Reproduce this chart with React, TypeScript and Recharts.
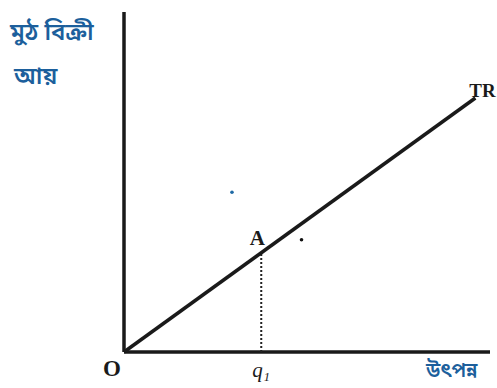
import React from "react";
import { LineChart, Line, XAxis, YAxis, ReferenceLine, ReferenceDot, Customized } from "recharts";

const trX = [0, 9.6];
const trY = [0, 7.47];
const qX = 3.75;
const aY = 2.92;
const specks = [
  { x: 2.95, y: 4.7, color: "#1f6aa5" },
  { x: 4.85, y: 3.3, color: "#111" },
];
const yTitle = ["মুঠ বিক্রী", "আয়"];
const xTitle = "উৎপন্ন";

const data = trX.map((x, i) => ({ x, tr: trY[i] }));

const BN = "'Noto Sans Bengali', 'Noto Sans', 'DejaVu Sans', sans-serif";
const SERIF = "'Liberation Serif', 'DejaVu Serif', serif";

const Titles = () => (
  <g>
    <text x={10} y={40} fontFamily={BN} fontSize={24} fontWeight={600} fill="#1c5f9c">{yTitle[0]}</text>
    <text x={14} y={84} fontFamily={BN} fontSize={24} fontWeight={600} fill="#1c5f9c">{yTitle[1]}</text>
    <text x={426} y={377} fontFamily={BN} fontSize={20} fontWeight={600} fill="#1c5f9c">{xTitle}</text>
  </g>
);

export default function App() {
  return (
    <div style={{ position: "absolute", left: 0, top: 0, width: 497, height: 388, background: "#fff" }}>
      <LineChart width={497} height={388} data={data} margin={{ top: 12, right: 7, bottom: 36, left: 124 }}>
        <XAxis type="number" dataKey="x" domain={[0, 10]} hide />
        <YAxis type="number" domain={[0, 10]} hide />
        <ReferenceLine segment={[{ x: 0, y: 0 }, { x: 10, y: 0 }]} stroke="#1a1a1a" strokeWidth={3.5} ifOverflow="visible" />
        <ReferenceLine segment={[{ x: 0, y: 0 }, { x: 0, y: 10 }]} stroke="#1a1a1a" strokeWidth={3.5} ifOverflow="visible" />
        <ReferenceLine segment={[{ x: qX, y: 0 }, { x: qX, y: aY }]} stroke="#222" strokeWidth={2} strokeDasharray="2 2" />
        <Line type="linear" dataKey="tr" stroke="#1a1a1a" strokeWidth={3.5} dot={false} isAnimationActive={false} />
        {specks.map((s, i) => (
          <ReferenceDot key={i} x={s.x} y={s.y} r={1.8} fill={s.color} stroke="none" />
        ))}
        <ReferenceDot x={qX} y={aY} r={0} stroke="none"
          label={{ value: "A", position: "top", offset: 8, dx: -4, fontFamily: SERIF, fontSize: 21, fontWeight: "bold", fill: "#1a1a1a" }} />
        <ReferenceDot x={qX} y={0} r={0} stroke="none"
          label={{ value: "q₁", position: "bottom", offset: 10, fontFamily: SERIF, fontStyle: "italic", fontSize: 21, fill: "#1a1a1a" }} />
        <ReferenceDot x={0} y={0} r={0} stroke="none"
          label={{ value: "O", position: "bottom", offset: 8, dx: -12, fontFamily: SERIF, fontSize: 23, fontWeight: "bold", fill: "#1a1a1a" }} />
        <ReferenceDot x={trX[1]} y={trY[1]} r={0} stroke="none"
          label={{ value: "TR", position: "right", offset: 0, dx: -6, dy: -8, fontFamily: SERIF, fontSize: 19, fontWeight: "bold", fill: "#1a1a1a" }} />
        <Customized component={Titles} />
      </LineChart>
    </div>
  );
}
